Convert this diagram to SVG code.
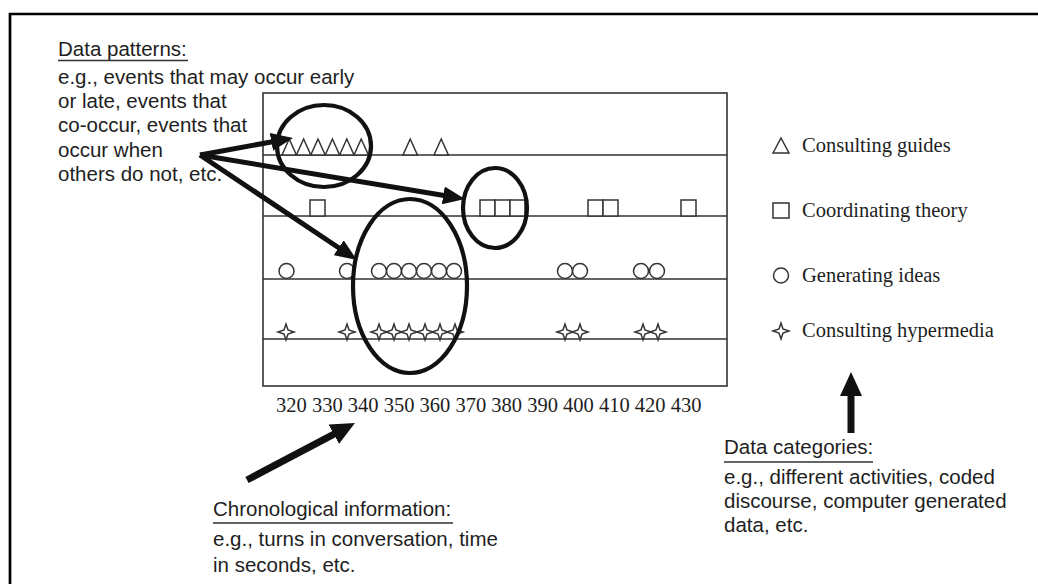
<svg xmlns="http://www.w3.org/2000/svg" width="1038" height="584" viewBox="0 0 1038 584">
<style>
.sans{font-family:"Liberation Sans",Arial,sans-serif;font-size:20.5px;fill:#1e1e1e}
.serif{font-family:"Liberation Serif","Times New Roman",serif;font-size:20.5px;fill:#1e1e1e}
.grid{stroke:#333;stroke-width:1.6;fill:none}
.sym{stroke:#333;stroke-width:1.5;fill:#fff}
.ring{stroke:#111;stroke-width:4.2;fill:none}
.arr{stroke:#111;fill:none}
.ul{stroke:#333;stroke-width:1.6}
</style>
<defs>
<polygon id="tri" points="0,0 7.2,-16 14.4,0" class="sym"/>
<rect id="sq" x="0" y="-16" width="15" height="16" class="sym"/>
<circle id="circ" cx="0" cy="0" r="7.5" class="sym"/>
<path id="star" d="M-8,0 L-2,-2 L0,-8 L2,-2 L8,0 L2,2 L0,8 L-2,2 Z" class="sym"/>
<marker id="ah" markerUnits="userSpaceOnUse" markerWidth="22" markerHeight="18" refX="4" refY="9" orient="auto" viewBox="0 0 22 18">
<path d="M0,0 L22,9 L0,18 Z" fill="#111"/>
</marker>
<marker id="ahb" markerUnits="userSpaceOnUse" markerWidth="24" markerHeight="22" refX="4" refY="11" orient="auto" viewBox="0 0 24 22">
<path d="M0,0 L24,11 L0,22 Z" fill="#111"/>
</marker>
</defs>
<rect width="1038" height="584" fill="#fff"/>
<path d="M10,584 V14 H1038" fill="none" stroke="#000" stroke-width="2.7"/>

<g id="chart">
<rect x="263" y="93" width="464" height="293" class="grid"/>
<line x1="263" y1="155" x2="727" y2="155" class="grid"/>
<line x1="263" y1="216" x2="727" y2="216" class="grid"/>
<line x1="263" y1="279" x2="727" y2="279" class="grid"/>
<line x1="263" y1="339" x2="727" y2="339" class="grid"/>
<g id="triangles">
<use href="#tri" x="282" y="155"/><use href="#tri" x="296.4" y="155"/><use href="#tri" x="310.8" y="155"/>
<use href="#tri" x="325.2" y="155"/><use href="#tri" x="339.6" y="155"/><use href="#tri" x="354" y="155"/>
<use href="#tri" x="403" y="155"/><use href="#tri" x="434" y="155"/>
</g>
<g id="squares">
<use href="#sq" x="310" y="216"/>
<use href="#sq" x="480" y="216"/><use href="#sq" x="495" y="216"/><use href="#sq" x="510" y="216"/>
<use href="#sq" x="588" y="216"/><use href="#sq" x="603" y="216"/>
<use href="#sq" x="681" y="216"/>
</g>
<g id="circles">
<use href="#circ" x="286.5" y="271"/><use href="#circ" x="347" y="271"/>
<use href="#circ" x="379" y="271"/><use href="#circ" x="394" y="271"/><use href="#circ" x="409" y="271"/>
<use href="#circ" x="424" y="271"/><use href="#circ" x="439" y="271"/><use href="#circ" x="454" y="271"/>
<use href="#circ" x="565" y="271"/><use href="#circ" x="580" y="271"/>
<use href="#circ" x="641" y="271"/><use href="#circ" x="657" y="271"/>
</g>
<g id="stars">
<use href="#star" x="286" y="332"/><use href="#star" x="347" y="332"/>
<use href="#star" x="379" y="332"/><use href="#star" x="394" y="332"/><use href="#star" x="409" y="332"/>
<use href="#star" x="425" y="332"/><use href="#star" x="440" y="332"/><use href="#star" x="455" y="332"/>
<use href="#star" x="565" y="332"/><use href="#star" x="580" y="332"/>
<use href="#star" x="643" y="332"/><use href="#star" x="658" y="332"/>
</g>
<text class="serif" x="276" y="412">320 330 340 350 360 370 380 390 400 410 420 430</text>
</g>

<g id="pattern-rings">
<ellipse cx="324" cy="146" rx="47" ry="41" class="ring"/>
<ellipse cx="495" cy="208" rx="32" ry="40" class="ring"/>
<ellipse cx="410" cy="286" rx="57" ry="87" class="ring"/>
</g>

<g id="legend">
<polygon points="773,153 781,138 789,153" class="sym"/>
<text class="serif" x="802" y="152">Consulting guides</text>
<rect x="773" y="203" width="16" height="15" class="sym"/>
<text class="serif" x="802" y="217">Coordinating theory</text>
<circle cx="781" cy="275.5" r="7.5" class="sym"/>
<text class="serif" x="802" y="282">Generating ideas</text>
<use href="#star" x="781" y="331"/>
<text class="serif" x="802" y="337">Consulting hypermedia</text>
</g>

<g id="data-patterns">
<text class="sans" x="58" y="56">Data patterns:</text>
<line x1="58" y1="60.5" x2="188" y2="60.5" class="ul"/>
<text class="sans" x="58" y="84">e.g., events that may occur early</text>
<text class="sans" x="58" y="108">or late, events that</text>
<text class="sans" x="58" y="132">co-occur, events that</text>
<text class="sans" x="58" y="157">occur when</text>
<text class="sans" x="58" y="181">others do not, etc.</text>
</g>

<g id="chronological">
<text class="sans" x="213" y="516">Chronological information:</text>
<line x1="213" y1="523" x2="453" y2="523" class="ul"/>
<text class="sans" x="213" y="546">e.g., turns in conversation, time</text>
<text class="sans" x="213" y="572">in seconds, etc.</text>
</g>

<g id="categories">
<text class="sans" x="724" y="454">Data categories:</text>
<line x1="724" y1="462" x2="873" y2="462" class="ul"/>
<text class="sans" x="724" y="484">e.g., different activities, coded</text>
<text class="sans" x="724" y="508">discourse, computer generated</text>
<text class="sans" x="724" y="532">data, etc.</text>
</g>

<g id="connectors">
<line x1="200" y1="155" x2="275.3" y2="141.2" class="arr" stroke-width="5" marker-end="url(#ah)"/>
<line x1="200" y1="155" x2="447.2" y2="196" class="arr" stroke-width="5" marker-end="url(#ah)"/>
<line x1="200" y1="155" x2="342" y2="250" class="arr" stroke-width="5" marker-end="url(#ah)"/>
<line x1="247" y1="480" x2="337.3" y2="432.3" class="arr" stroke-width="7" marker-end="url(#ahb)"/>
<line x1="851" y1="433" x2="851" y2="392" class="arr" stroke-width="7" marker-end="url(#ahb)"/>
</g>
</svg>
